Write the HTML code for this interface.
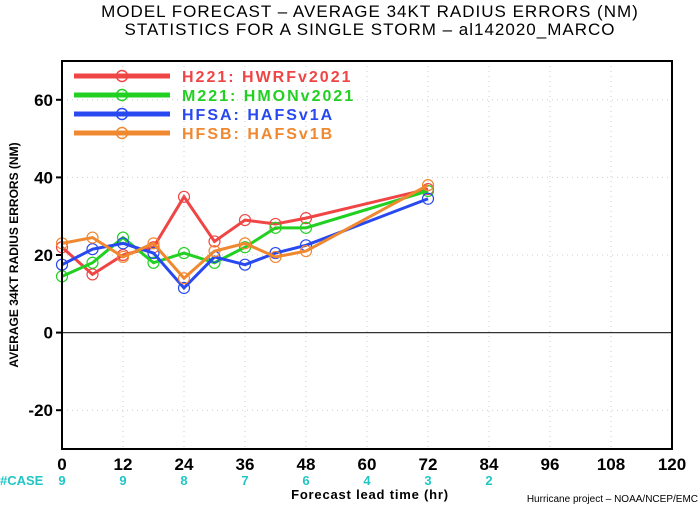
<!DOCTYPE html>
<html><head><meta charset="utf-8"><style>
body{margin:0;background:#fff;}
svg{display:block;font-family:"Liberation Sans",sans-serif;}
</style></head><body>
<svg id="chart" width="700" height="506">
<text x="370" y="17" text-anchor="middle" font-size="17" letter-spacing="1">MODEL FORECAST – AVERAGE 34KT RADIUS ERRORS (NM)</text>
<text x="370" y="35" text-anchor="middle" font-size="17" letter-spacing="1">STATISTICS FOR A SINGLE STORM – al142020_MARCO</text>
<g id="grid"></g>
<g id="series"></g>
<rect x="62" y="61" width="610" height="388" fill="none" stroke="#000" stroke-width="2"/>
<g id="axes"></g>
<g id="legend"></g>
<text x="18" y="255" transform="rotate(-90 18 255)" text-anchor="middle" font-size="12" font-weight="bold">AVERAGE 34KT RADIUS ERRORS (NM)</text>
<text x="370" y="499" text-anchor="middle" font-size="13" font-weight="bold" letter-spacing="0.8">Forecast lead time (hr)</text>
<text x="698" y="502" text-anchor="end" font-size="10">Hurricane project – NOAA/NCEP/EMC</text>
<text x="0" y="485" font-size="13" font-weight="bold" fill="#22c5c5">#CASE</text>
</svg>
<script>
const hours=[0,6,12,18,24,30,36,42,48,72];
const hwrf=[22,15,20,22,35,23.5,29,28,29.5,37];
const hmon=[14.5,18,24.5,18,20.5,18,22,27,27,36.5];
const hfsa=[17.5,21.5,23,20.5,11.5,19.5,17.5,20.5,22.5,34.5];
const hfsb=[23,24.5,19.5,23,14,21,23,19.5,21,38];
const xTicks=[0,12,24,36,48,60,72,84,96,108,120];
const yTicks=[-20,0,20,40,60];
const caseHours=[0,12,24,36,48,60,72,84];
const caseCounts=[9,9,8,7,6,4,3,2];
const names=["H221:  HWRFv2021","M221:  HMONv2021","HFSA:  HAFSv1A","HFSB:  HAFSv1B"];
const colors=["#f04545","#22d022","#2848f0","#f08830"];
const NS="http://www.w3.org/2000/svg";
const X=v=>62+v*(610/120);
const Y=v=>449-(v+30)*(388/100);
function mk(t,a,p){const e=document.createElementNS(NS,t);for(const k in a)e.setAttribute(k,a[k]);p.appendChild(e);return e;}
const grid=document.getElementById('grid'),axes=document.getElementById('axes'),ser=document.getElementById('series'),leg=document.getElementById('legend');
xTicks.forEach(t=>{
 const l=mk('line',{x1:X(t),x2:X(t),y1:61,y2:449,stroke:'#ccc','stroke-dasharray':'1,4'},grid);
 
 
 const tx=mk('text',{x:X(t),y:470,'text-anchor':'middle','font-size':17,'font-weight':'bold'},axes);
 tx.textContent=t;
 
 
});
yTicks.forEach(t=>{
 const l=mk('line',{x1:62,x2:672,y1:Y(t),y2:Y(t),stroke:t===0?'#333':'#ccc','stroke-dasharray':t===0?'':'1,4','stroke-width':t===0?1.2:1},grid);
 
 
 const k=mk('line',{x1:56,x2:62,y1:Y(t),y2:Y(t),stroke:'#000','stroke-width':2},axes);
 
 
 const tx=mk('text',{x:53,y:Y(t)+6,'text-anchor':'end','font-size':17,'font-weight':'bold'},axes);
 tx.textContent=t;
 
 
});
caseHours.forEach((h,i)=>{
 const tx=mk('text',{x:X(h),y:485,'text-anchor':'middle','font-size':13,'font-weight':'bold',fill:'#22c5c5'},axes);
 tx.textContent=caseCounts[i];
 
 
});
[hwrf,hmon,hfsa,hfsb].forEach((s,si)=>{
 const g=mk('g',{},ser);
 
 
 const pl=mk('polyline',{points:s.map((v,i)=>X(hours[i])+','+Y(v)).join(' '),fill:'none',stroke:colors[si],'stroke-width':3},g);
 
 
 s.forEach((v,i)=>{
  const c=mk('circle',{cx:X(hours[i]),cy:Y(v),r:5.5,fill:'none',stroke:colors[si],'stroke-width':1.2},g);
  
  
 });
 const y=76+si*19;
 const lg=mk('g',{},leg);
 
 
 mk('line',{x1:74,x2:170,y1:y,y2:y,stroke:colors[si],'stroke-width':5},lg);
 mk('circle',{cx:122,cy:y,r:5.5,fill:'none',stroke:colors[si],'stroke-width':1.5},lg);
 const tx=mk('text',{x:182,y:y+6,'font-size':16,'font-weight':'bold','letter-spacing':2,fill:colors[si],'xml:space':'preserve'},lg);
 tx.textContent=names[si];
});
</script>
</body></html>
